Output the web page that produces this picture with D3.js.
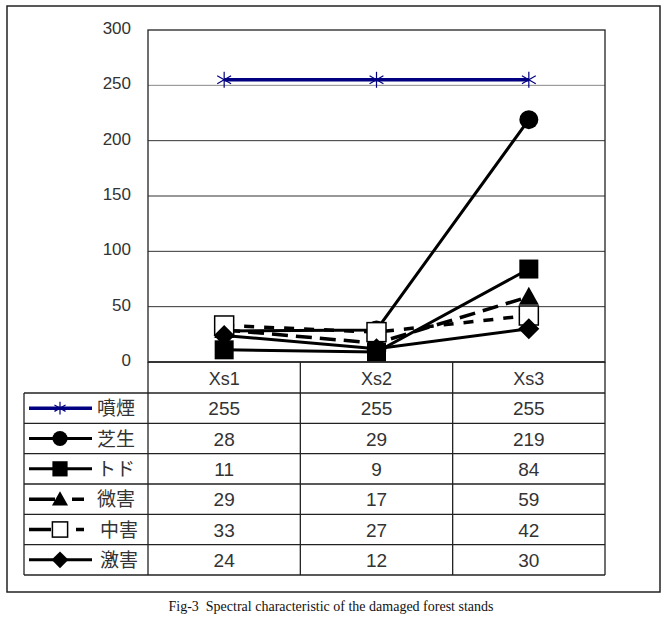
<!DOCTYPE html>
<html><head><meta charset="utf-8">
<script src="https://cdn.jsdelivr.net/npm/d3@7"></script>
<style>body{margin:0;background:#fff}svg{display:block}</style>
</head><body>
<script>
const categories = ["Xs1", "Xs2", "Xs3"];
const seriesNames = ["噴煙", "芝生", "トド", "微害", "中害", "激害"];
const vFunen = [255, 255, 255];
const vShiba = [28, 29, 219];
const vTodo = [11, 9, 84];
const vBigai = [29, 17, 59];
const vChugai = [33, 27, 42];
const vGekigai = [24, 12, 30];
const yTicks = [0, 50, 100, 150, 200, 250, 300];
const caption = "Fig-3  Spectral characteristic of the damaged forest stands";

const seriesValues = [vFunen, vShiba, vTodo, vBigai, vChugai, vGekigai];
const styles = [
  {color: "#000080", marker: "asterisk", dash: null, width: 3.5},
  {color: "#000", marker: "circle", dash: null, width: 3},
  {color: "#000", marker: "square", dash: null, width: 3},
  {color: "#000", marker: "triangle", dash: "16,8", width: 3.5},
  {color: "#000", marker: "openSquare", dash: "10,10", width: 3.5},
  {color: "#000", marker: "diamond", dash: null, width: 3}
];

const W = 669, H = 620;
const svg = d3.select("body").append("svg").attr("width", W).attr("height", H);
const numFont = "'Liberation Sans', Arial, sans-serif";
const jpFont = "'Noto Sans CJK JP', sans-serif";
const textColor = "#333";

// outer frame
svg.append("rect").attr("x", 7).attr("y", 6).attr("width", 653).attr("height", 586)
  .attr("fill", "none").attr("stroke", "#222").attr("stroke-width", 1.5);

const plotL = 148, plotR = 605, plotT = 30, plotB = 362;
const x = d3.scaleBand().domain(categories).range([plotL, plotR]).padding(0);
const y = d3.scaleLinear().domain([0, 300]).range([plotB, plotT]);

// gridlines
svg.append("g").selectAll("line").data(yTicks.filter(t => t > 0 && t < 300)).join("line")
  .attr("x1", plotL).attr("x2", plotR).attr("y1", d => y(d)).attr("y2", d => y(d))
  .attr("stroke", d => d === 250 ? "#888" : "#333").attr("stroke-width", 1);

// plot border
svg.append("rect").attr("x", plotL).attr("y", plotT).attr("width", plotR - plotL).attr("height", plotB - plotT)
  .attr("fill", "none").attr("stroke", "#222").attr("stroke-width", 1.3);

// y axis
const yAxis = d3.axisLeft(y).tickValues(yTicks).tickSize(0).tickPadding(17);
const gy = svg.append("g").attr("transform", `translate(${plotL},0)`).call(yAxis);
gy.select(".domain").remove();
gy.selectAll("text").attr("font-family", numFont).attr("font-size", 17).attr("fill", textColor).attr("dy", "0.2em");

// lines
const line = d3.line().x((d, i) => x(categories[i]) + x.bandwidth() / 2).y(d => y(d));
const g = svg.append("g");
seriesValues.forEach((vals, si) => {
  const st = styles[si];
  g.append("path").attr("d", line(vals)).attr("fill", "none").attr("stroke", st.color)
    .attr("stroke-width", st.width).attr("stroke-dasharray", st.dash);
});

function drawMarker(sel, type, cx, cy, color, scale) {
  const s = scale || 1;
  if (type === "asterisk") {
    const r = 8 * s;
    const gg = sel.append("g").attr("stroke", color).attr("stroke-width", 1.2);
    [0, 60, 120].forEach(a => {
      const rad = a * Math.PI / 180;
      gg.append("line").attr("x1", cx - r * Math.sin(rad)).attr("y1", cy - r * Math.cos(rad))
        .attr("x2", cx + r * Math.sin(rad)).attr("y2", cy + r * Math.cos(rad));
    });
  } else if (type === "circle") {
    sel.append("circle").attr("cx", cx).attr("cy", cy).attr("r", 9.5 * s).attr("fill", color);
  } else if (type === "square") {
    const h = 9.5 * s;
    sel.append("rect").attr("x", cx - h).attr("y", cy - h).attr("width", 2 * h).attr("height", 2 * h).attr("fill", color);
  } else if (type === "openSquare") {
    const h = 9.5 * s;
    sel.append("rect").attr("x", cx - h).attr("y", cy - h).attr("width", 2 * h).attr("height", 2 * h)
      .attr("fill", "#fff").attr("stroke", color).attr("stroke-width", 1.5);
  } else if (type === "triangle") {
    const h = 10 * s;
    sel.append("path").attr("d", `M${cx},${cy - h}L${cx + h},${cy + h * 0.8}L${cx - h},${cy + h * 0.8}Z`).attr("fill", color);
  } else if (type === "diamond") {
    const h = 10.5 * s;
    sel.append("path").attr("d", `M${cx},${cy - h}L${cx + h},${cy}L${cx},${cy + h}L${cx - h},${cy}Z`).attr("fill", color);
  }
}

seriesValues.forEach((vals, si) => {
  const st = styles[si];
  vals.forEach((v, i) => drawMarker(g, st.marker, x(categories[i]) + x.bandwidth() / 2, y(v), st.color, 1));
});

// data table
const tableL = 24;
const headerB = 393;
const rowH = (575 - headerB) / seriesNames.length;
const tg = svg.append("g");
function hline(x1, x2, yy) { tg.append("line").attr("x1", x1).attr("x2", x2).attr("y1", yy).attr("y2", yy).attr("stroke", "#222").attr("stroke-width", 1.3); }
function vline(xx, y1, y2) { tg.append("line").attr("x1", xx).attr("x2", xx).attr("y1", y1).attr("y2", y2).attr("stroke", "#222").attr("stroke-width", 1.3); }

// header row (categories)
hline(plotL, plotR, plotB);
categories.forEach((c, i) => {
  vline(x(c), plotB, 575);
  tg.append("text").attr("x", x(c) + x.bandwidth() / 2).attr("y", plotB + 23).attr("text-anchor", "middle")
    .attr("font-family", numFont).attr("font-size", 18).attr("fill", textColor).text(c);
});
vline(plotR, plotB, 575);
vline(tableL, headerB, 575);
for (let r = 0; r <= seriesNames.length; r++) hline(tableL, plotR, headerB + r * rowH);

seriesNames.forEach((name, si) => {
  const cy = headerB + rowH * (si + 0.5);
  const st = styles[si];
  // legend key
  tg.append("line").attr("x1", 29).attr("x2", 92).attr("y1", cy).attr("y2", cy)
    .attr("stroke", st.color).attr("stroke-width", st.width)
    .attr("stroke-dasharray", st.dash ? (si === 3 ? "26,17,12,40" : "22,25,8,40") : null);
  drawMarker(tg, st.marker, 60, cy, st.color, 0.8);
  tg.append("text").attr("x", si === 4 || si === 5 ? 100 : 97).attr("y", cy + 7).attr("font-family", jpFont)
    .attr("font-size", 19).attr("fill", textColor).text(name);
  seriesValues[si].forEach((v, i) => {
    tg.append("text").attr("x", x(categories[i]) + x.bandwidth() / 2).attr("y", cy + 7).attr("text-anchor", "middle")
      .attr("font-family", numFont).attr("font-size", 19).attr("fill", textColor).text(v);
  });
});

// caption
svg.append("text").attr("x", 331).attr("y", 611).attr("text-anchor", "middle")
  .attr("font-family", "'Liberation Serif', 'Times New Roman', serif").attr("font-size", 14).attr("fill", "#111")
  .style("white-space", "pre").text(caption);
</script>
</body></html>
